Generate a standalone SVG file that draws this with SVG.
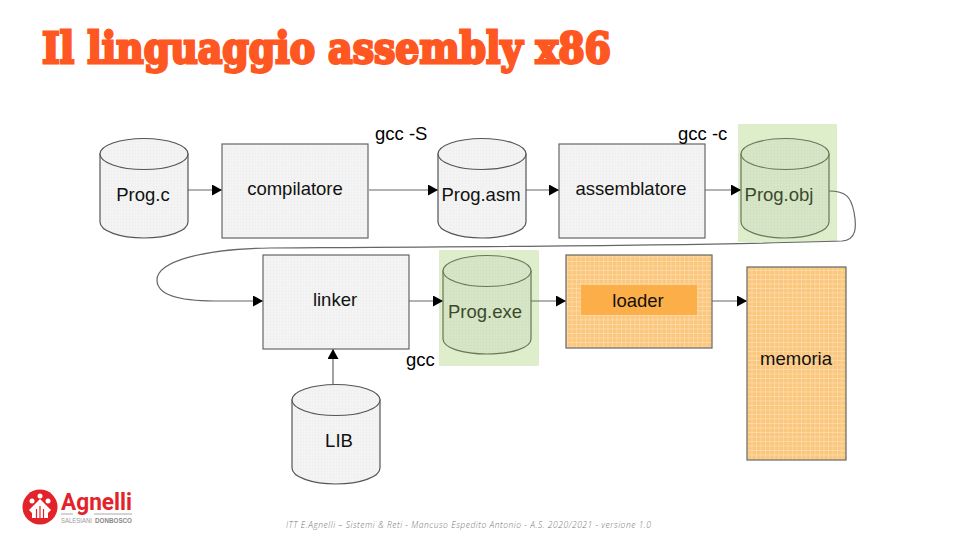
<svg xmlns="http://www.w3.org/2000/svg" width="960" height="540" viewBox="0 0 960 540">
<style>
text{font-family:"Liberation Sans",Arial,sans-serif;fill:#111}
.l{font-size:18.500px;text-anchor:middle}
.g{font-size:18.500px;fill:#000}
.box{stroke:#666;stroke-width:1.200}
.gray{fill:url(#grid)}
.cyl{fill:url(#grid);stroke:#555;stroke-width:1.200}
.gc{fill:url(#gridG);stroke:#66785a;stroke-width:1.200}
.gt{fill:#3a4a2c}
.c{fill:none;stroke:#666;stroke-width:1.200}
.ca{fill:none;stroke:#666;stroke-width:1.200;marker-end:url(#a)}
</style>
<defs>
<pattern id="grid" width="3" height="3" patternUnits="userSpaceOnUse"><rect width="3" height="3" fill="#f4f4f4"/><path d="M3 0H0V3" fill="none" stroke="#e9e9e9" stroke-width=".6"/></pattern>
<pattern id="gridG" width="3" height="3" patternUnits="userSpaceOnUse"><rect width="3" height="3" fill="#d8e6c8"/><path d="M3 0H0V3" fill="none" stroke="#cadbb8" stroke-width=".6"/></pattern>
<pattern id="gridO" width="4.500" height="4.500" patternUnits="userSpaceOnUse"><rect width="4.500" height="4.500" fill="#fbc77c"/><path d="M4.500 0H0V4.500" fill="none" stroke="#fde0b5" stroke-width="1.200"/></pattern>
<marker id="a" markerUnits="userSpaceOnUse" markerWidth="11" markerHeight="11" refX="10" refY="5.500" orient="auto"><path d="M0 0L10 5.500L0 11Z" fill="#000"/></marker>
</defs>
<rect width="960" height="540" fill="#fff"/>
<text x="42" y="63" font-size="42" font-weight="700" textLength="569" lengthAdjust="spacingAndGlyphs" stroke="#ff5722" stroke-width="2.800" style="font-family:'DejaVu Serif',serif;fill:#ff5722">Il linguaggio assembly x86</text>
<rect x="738" y="124" width="99" height="118" fill="#deeecb"/>
<rect x="439" y="250" width="100" height="116" fill="#deeecb"/>
<g id="connectors">
<path class="ca" d="M188 190H222"/>
<path class="ca" d="M369 190H438"/>
<path class="ca" d="M526 190H559"/>
<path class="ca" d="M705 190H741"/>
<path class="c" d="M829 191C846 191 851 197 854 212C857 228 856 240 842 241C700 246 440 247 270 248C200 249 157 262 157 280C157 294 175 301 215 301"/>
<path class="ca" d="M215 301H263"/>
<path class="ca" d="M409 301H443"/>
<path class="ca" d="M531 301H566"/>
<path class="ca" d="M712 301H747"/>
<path class="ca" d="M333 384V349"/>
</g>
<g id="prog-c"><path class="cyl" d="M100 154V222C100 231 120 238 144 238C168 238 188 231 188 222V154Z"/><ellipse class="cyl" cx="144" cy="154" rx="44" ry="15.500"/><text class="l" x="143" y="201">Prog.c</text></g>
<g id="compilatore"><rect class="box gray" x="222" y="144" width="146" height="94"/><text class="l" x="295" y="195">compilatore</text></g>
<g id="prog-asm"><path class="cyl" d="M438 154V222C438 231 458 238 482 238C506 238 526 231 526 222V154Z"/><ellipse class="cyl" cx="482" cy="154" rx="44" ry="15.500"/><text class="l" x="481" y="201">Prog.asm</text></g>
<g id="assemblatore"><rect class="box gray" x="559" y="144" width="146" height="94"/><text class="l" x="631" y="195">assemblatore</text></g>
<g id="prog-obj"><path class="gc" d="M741 154V222C741 231 761 238 785 238C809 238 829 231 829 222V154Z"/><ellipse class="gc" cx="785" cy="154" rx="44" ry="15.500"/><text class="l gt" x="779" y="201">Prog.obj</text></g>
<g id="linker"><rect class="box gray" x="263" y="255" width="146" height="94"/><text class="l" x="335" y="306">linker</text></g>
<g id="prog-exe"><path class="gc" d="M443 271V339C443 348 463 354 487 354C511 354 531 348 531 339V271Z"/><ellipse class="gc" cx="487" cy="271" rx="44" ry="15.500"/><text class="l gt" x="485" y="318">Prog.exe</text></g>
<g id="loader"><rect x="566" y="255" width="146" height="93" fill="url(#gridO)" stroke="#666" stroke-width="1.200"/><rect x="581" y="285" width="116" height="30" fill="#fcae48"/><text class="l" x="638" y="307">loader</text></g>
<g id="memoria"><rect x="747" y="267" width="99" height="193" fill="url(#gridO)" stroke="#666" stroke-width="1.200"/><text class="l" x="796" y="365">memoria</text></g>
<g id="lib"><path class="cyl" d="M292 400V468C292 477 312 484 336 484C360 484 380 477 380 468V400Z"/><ellipse class="cyl" cx="336" cy="400" rx="44" ry="15.500"/><text class="l" x="339" y="447">LIB</text></g>
<text class="g" x="375" y="140">gcc -S</text>
<text class="g" x="678" y="140">gcc -c</text>
<text class="g" x="406" y="366">gcc</text>
<g id="logo">
<circle cx="40" cy="507" r="17.500" fill="#e2232a"/>
<path d="M29 510L40 499L51 510L48 513V518H32V513Z" fill="#fff"/>
<path d="M36.500 518V509M40 518V506M43.500 518V509" stroke="#e2232a" stroke-width="1.200"/>
<circle cx="40" cy="496" r="2.500" fill="#fff"/><circle cx="32" cy="501" r="2.500" fill="#fff"/><circle cx="48" cy="501" r="2.500" fill="#fff"/>
<text x="61" y="510" font-size="23" font-weight="700" textLength="71" lengthAdjust="spacingAndGlyphs" style="font-family:Roboto,sans-serif;fill:#e2232a">Agnelli</text>
<path d="M61 514H73M94 514H132" stroke="#aaa" stroke-width="1.200"/>
<text x="61" y="523" font-size="7" textLength="31" lengthAdjust="spacingAndGlyphs" style="fill:#999">SALESIANI</text>
<text x="95" y="523" font-size="7" font-weight="700" textLength="37" lengthAdjust="spacingAndGlyphs" style="fill:#888">DONBOSCO</text>
</g>
<text x="286" y="528" font-size="8.500" font-style="italic" font-weight="300" textLength="365" lengthAdjust="spacing" style="font-family:'Open Sans',sans-serif;fill:#777">ITT E.Agnelli – Sistemi &amp; Reti - Mancuso Espedito Antonio - A.S. 2020/2021 - versione 1.0</text>
</svg>
